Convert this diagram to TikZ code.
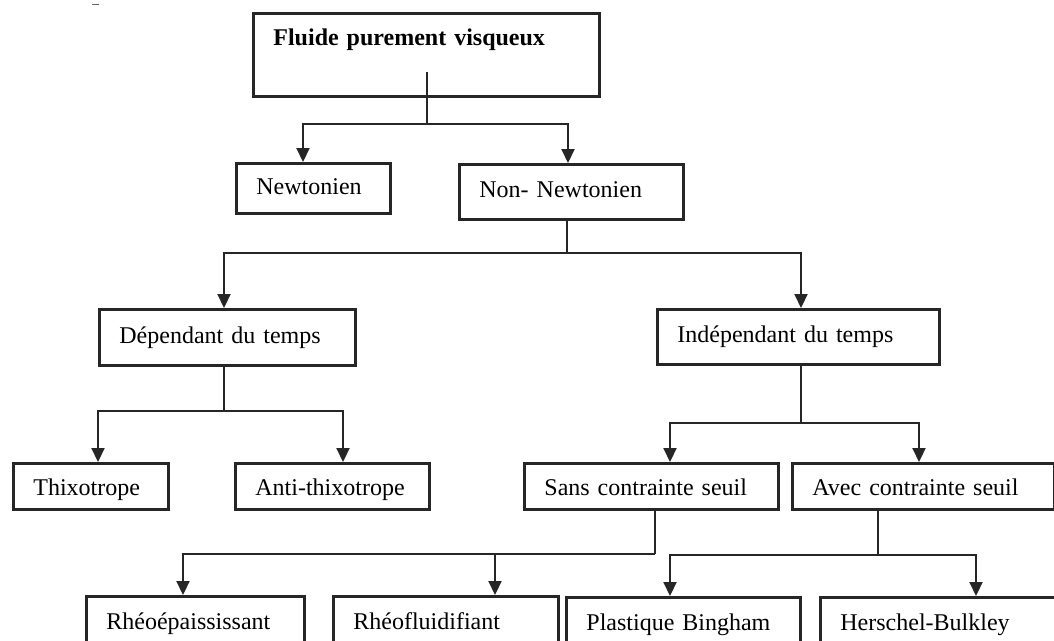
\documentclass[tikz,border=0pt]{standalone}
\usepackage{fontspec}
\setmainfont{Liberation Serif}
\usetikzlibrary{arrows.meta}
\begin{document}
\begin{tikzpicture}[x=1pt,y=-1pt,
  box/.style={draw=black!85, line width=2.8pt, anchor=north west, inner xsep=20pt, inner ysep=0pt,
    align=left, font=\fontsize{24}{28}\selectfont, text=black, text height=17pt, text depth=5pt},
  lowtext/.style={text height=20pt, text depth=1pt},
  line/.style={draw=black!85, line width=2.1pt},
  arr/.style={line, -{Triangle[length=14pt,width=13pt]}},
]
\useasboundingbox (0,0) rectangle (1054,640);
\clip (0,0) rectangle (1054,640);

% boxes
\node[box, font=\bfseries\fontsize{24}{28}\selectfont, text width=306pt, text height=17pt, text depth=36pt, inner ysep=15pt] (title) at (252,12) {Fluide purement visqueux};
\node[box, minimum width=154pt, minimum height=50pt, text width=114pt] (newt) at (235,162) {Newtonien};
\node[box, minimum width=224pt, minimum height=55pt, text width=184pt] (nonn) at (458,163) {Non- Newtonien};
\node[box, minimum width=256pt, minimum height=56pt, text width=216pt] (dep) at (98,308) {Dépendant du temps};
\node[box, minimum width=282pt, minimum height=55pt, text width=242pt] (indep) at (656,308) {Indépendant du temps};
\node[box, lowtext, minimum width=155pt, minimum height=46pt, text width=115pt] (thixo) at (12,462) {Thixotrope};
\node[box, lowtext, minimum width=194pt, minimum height=46pt, text width=154pt] (anti) at (234,462) {Anti-thixotrope};
\node[box, lowtext, minimum width=254pt, minimum height=46pt, text width=214pt] (sans) at (523,462) {Sans contrainte seuil};
\node[box, lowtext, minimum width=262pt, minimum height=46pt, text width=222pt] (avec) at (791,462) {Avec contrainte seuil};
\node[box, minimum width=218pt, minimum height=54pt, text width=178pt] (rheoep) at (85,595) {Rhéoépaississant};
\node[box, minimum width=225pt, minimum height=54pt, text width=185pt] (rheofl) at (332,595) {Rhéofluidifiant};
\node[box, minimum width=234pt, minimum height=54pt, text width=194pt] (plast) at (565,596) {Plastique Bingham};
\node[box, minimum width=260pt, minimum height=54pt, text width=220pt] (hersch) at (819,596) {Herschel-Bulkley};

% junctions
\coordinate (t0) at (427,72);
\coordinate (j1) at (427,124);
\coordinate (x1a) at (303,124);
\coordinate (x1b) at (568,124);
\coordinate (j2) at (567,253);
\coordinate (x2a) at (224,253);
\coordinate (x2b) at (801,253);
\coordinate (j3) at (224,411);
\coordinate (x3a) at (98,411);
\coordinate (x3b) at (343,411);
\coordinate (j4) at (801,423);
\coordinate (x4a) at (670,423);
\coordinate (x4b) at (919,423);
\coordinate (j5) at (655,554);
\coordinate (x5a) at (183,554);
\coordinate (x5b) at (495,554);
\coordinate (j6) at (878,555);
\coordinate (x6a) at (670,555);
\coordinate (x6b) at (976,555);

% connectors
\draw[line] (t0) -- (j1);
\draw[arr] (j1) -| (x1a |- newt.north);
\draw[arr] (j1) -| (x1b |- nonn.north);

\draw[line] (j2 |- nonn.south) -- (j2);
\draw[arr] (j2) -| (x2a |- dep.north);
\draw[arr] (j2) -| (x2b |- indep.north);

\draw[line] (j3 |- dep.south) -- (j3);
\draw[arr] (j3) -| (x3a |- thixo.north);
\draw[arr] (j3) -| (x3b |- anti.north);

\draw[line] (j4 |- indep.south) -- (j4);
\draw[arr] (j4) -| (x4a |- sans.north);
\draw[arr] (j4) -| (x4b |- avec.north);

\draw[line] (j5 |- sans.south) -- (j5);
\draw[arr] (j5) -| (x5a |- rheoep.north);
\draw[arr] (j5) -| (x5b |- rheofl.north);

\draw[line] (j6 |- avec.south) -- (j6);
\draw[arr] (j6) -| (x6a |- plast.north);
\draw[arr] (j6) -| (x6b |- hersch.north);

% small mark at top left
\draw[line width=1.5pt, black!60] (92,4.5) -- (99,4.5);
\end{tikzpicture}
\end{document}
